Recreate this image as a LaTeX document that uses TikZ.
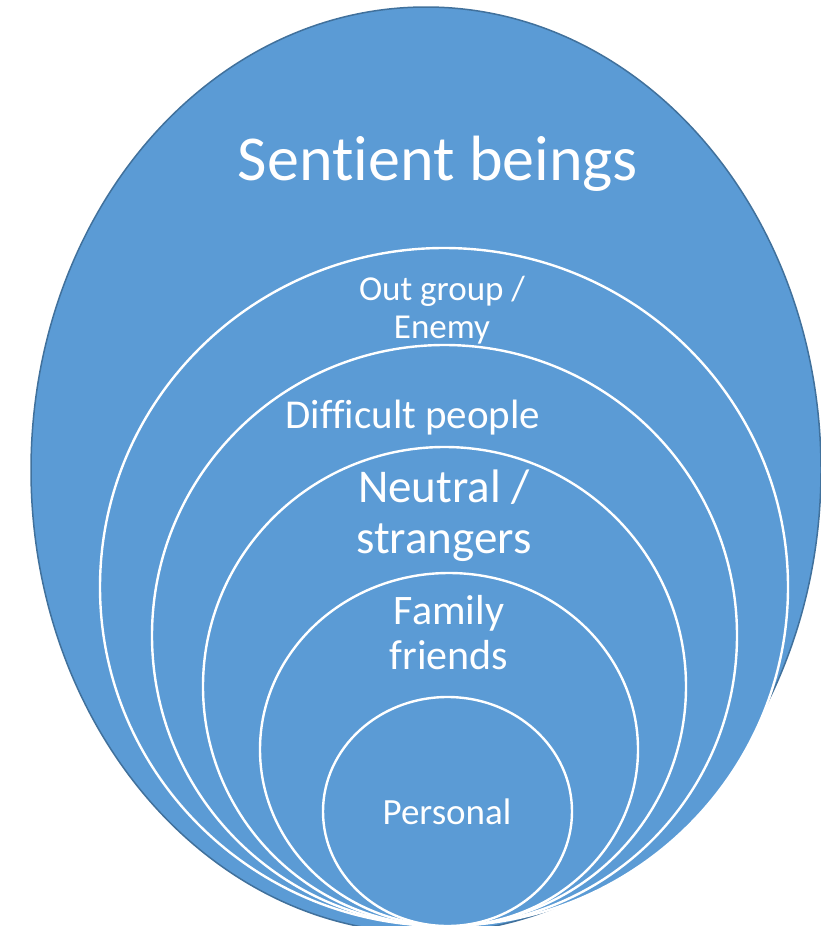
\documentclass[tikz,border=0pt]{standalone}
\usepackage{fontspec}
\setmainfont{Carlito}[Ligatures=NoCommon]
\usepackage{tikz}
\usetikzlibrary{shapes.geometric}
\usepackage{xcolor}
\definecolor{ringblue}{HTML}{5B9BD5}
\definecolor{rimblue}{HTML}{41719C}

\begin{document}
\begin{tikzpicture}[
    x = 1pt,
    y = -1pt,
    outer/.style={ellipse, fill=ringblue, draw=rimblue, line width=1.5pt, inner sep=0pt},
    ring/.style={ellipse, fill=ringblue, draw=white, line width=2.4pt, inner sep=0pt},
    tag/.style={text=white, align=center, inner sep=0pt}
]
    \useasboundingbox (0,0) rectangle (820,926);

    \node[outer, minimum width=790pt, minimum height=926pt] (beings) at (426,470) {};
    \node[ring, minimum width=688pt, minimum height=678pt] (outgroup) at (444,587) {};
    \node[ring, minimum width=585pt, minimum height=581pt] (difficult) at (444.5,635.5) {};
    \node[ring, minimum width=483pt, minimum height=479pt] (neutral) at (444.5,686.5) {};
    \node[ring, minimum width=378pt, minimum height=353pt] (family) at (449,749.5) {};
    \node[ring, minimum width=249pt, minimum height=229pt] (personal) at (447.5,811.5) {};

    \node[tag, font=\fontsize{64}{77}\selectfont, anchor=base] (beingstext) at (438,180) {Sentient beings};
    \node[tag, font=\fontsize{35}{38}\selectfont] (outtext) at (442,310.5) {Out group /\\Enemy};
    \node[tag, font=\fontsize{41}{49}\selectfont, anchor=base] (difftext) at (413,428) {Difficult people};
    \node[tag, font=\fontsize{47}{51}\selectfont] (neutext) at (444,516) {Neutral /\\strangers};
    \node[tag, font=\fontsize{42}{45}\selectfont] (famtext) at (449,633) {Family\\friends};
    \node[tag, font=\fontsize{37}{44}\selectfont, anchor=base] (perstext) at (447,824) {Personal};
\end{tikzpicture}
\end{document}
